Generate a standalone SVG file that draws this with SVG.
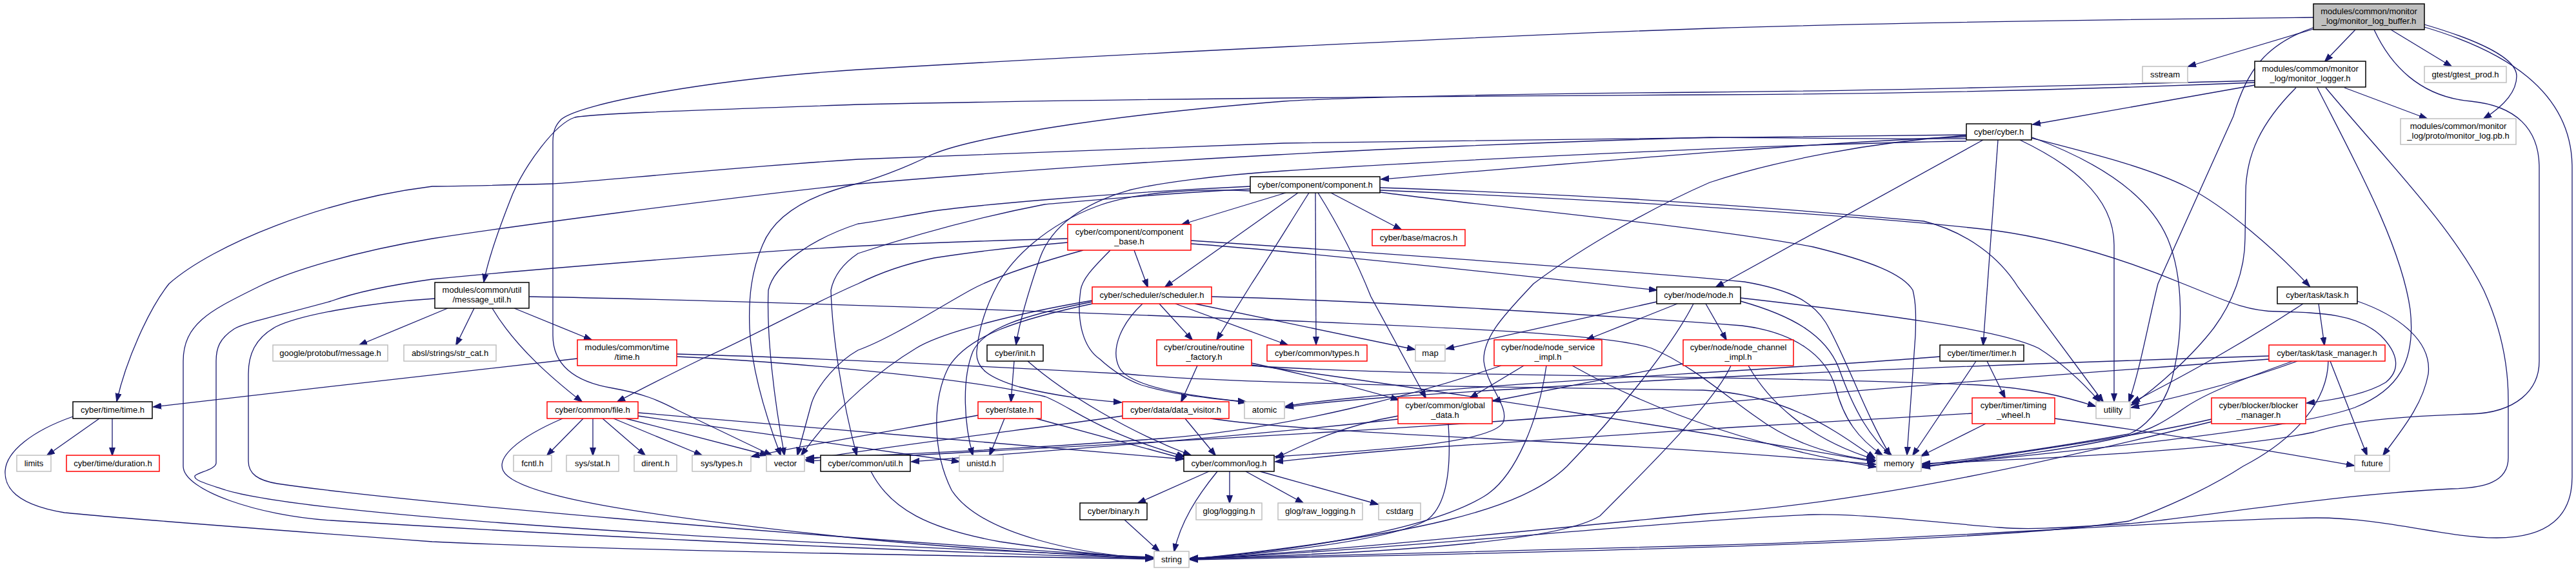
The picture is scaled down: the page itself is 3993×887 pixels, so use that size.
<svg xmlns="http://www.w3.org/2000/svg" width="3993" height="887" viewBox="0 0 3993 887">
<defs>
<style>
.e{fill:none;stroke:#191970;stroke-width:1.3;marker-end:url(#a)}
.nb rect{fill:#fff;stroke:#000;stroke-width:1.5}
.nr rect{fill:#fff;stroke:#ff0000;stroke-width:1.5}
.ng rect{fill:#fff;stroke:#bfbfbf;stroke-width:1.5}
.nroot rect{fill:#bfbfbf;stroke:#000;stroke-width:1.5}
text{font-family:"Liberation Sans",Arial,sans-serif;font-size:13px;text-anchor:middle;fill:#000}
</style>
<marker id="a" markerUnits="userSpaceOnUse" markerWidth="13" markerHeight="10" viewBox="0 0 13 10" refX="12" refY="5" orient="auto"><path d="M0,0.5 L13,5 L0,9.5 z" fill="#191970" stroke="#191970"/></marker>
</defs>
<rect width="3993" height="887" fill="#fff"/>
<g id="edges">
<path class="e" d="M3586,45 L3392,103"/>
<path class="e" d="M3651,46 L3604,95"/>
<path class="e" d="M3706,46 L3800,103"/>
<path class="e" d="M3758,38 C3840,62 3901,90 3901,118 C3901,142 3880,165 3850,184"/>
<path class="e" d="M3758,42 C3880,78 3987,140 3987,260 L3987,740 C3987,800 3950,834 3870,834 C3790,834 3700,803 3590,803 C3400,805 3000,836 2640,846 C2300,856 2000,864 1845,867"/>
<path class="e" d="M3586,27 C3300,30 2900,36 2650,44 C2300,56 1700,86 1330,108 C1100,123 900,160 870,185 C860,195 857,205 857,220 L857,520 C857,565 890,592 950,602 C995,610 1020,620 1050,636 L1196,706"/>
<path class="e" d="M3588,42 C3512,68 3482,110 3462,180 L3345,440 C3330,500 3318,570 3300,623"/>
<path class="e" d="M3680,46 C3705,100 3750,150 3830,157 C3900,164 3936,200 3936,260 L3936,560 C3936,605 3900,640 3830,642 C3740,645 3650,650 3587,670 C3450,700 3100,714 2980,719"/>
<path class="e" d="M3495,128 C3200,140 2900,146 2640,147 C2300,149 1800,152 1330,162 C1080,171 920,176 891,182 C860,192 815,255 795,300 C775,350 757,400 750,437"/>
<path class="e" d="M3495,132 L3151,193"/>
<path class="e" d="M3495,125 C3200,133 2900,141 2640,143 C2400,145 2100,150 1990,157 C1700,180 1500,215 1444,240 C1400,262 1350,280 1320,287 C1250,305 1200,335 1182,380 C1165,420 1160,460 1162,510 C1165,570 1185,640 1210,706"/>
<path class="e" d="M3559,136 C3505,190 3481,240 3481,300 L3480,370 C3480,420 3460,470 3432,508 C3400,550 3345,600 3304,628"/>
<path class="e" d="M3592,136 C3650,250 3722,380 3736,480 C3745,560 3718,605 3650,632 C3550,668 3200,700 2980,723"/>
<path class="e" d="M3634,136 L3762,184"/>
<path class="e" d="M3605,136 C3700,250 3800,350 3850,450 C3882,520 3888,580 3888,620 L3888,710 C3888,748 3850,757 3800,758 C3600,768 3400,804 3300,812 C3200,818 3150,822 3100,818 C3000,810 2880,796 2811,798 C2600,806 2100,858 1845,866"/>
<path class="e" d="M3048,209 C2800,211 2300,218 1990,222 C1700,232 1500,240 1330,247 C1100,262 900,284 856,285 C780,287 700,289 670,289 C500,310 330,380 262,440 C230,480 195,560 181,622"/>
<path class="e" d="M3048,212 C2800,222 2500,248 2141,278"/>
<path class="e" d="M3074,217 L2660,445"/>
<path class="e" d="M3097,217 L3074,535"/>
<path class="e" d="M3131,217 C3200,250 3277,300 3277,380 L3277,622"/>
<path class="e" d="M3149,214 C3250,240 3330,260 3390,290 C3450,320 3530,390 3580,444"/>
<path class="e" d="M3048,215 C2900,216 2700,213 2650,213 C2400,220 2100,233 1980,240 C1700,255 1450,275 1320,286 C1100,310 800,350 670,370 C550,390 450,420 400,445 C330,480 284,500 284,560 L284,723 C284,760 400,800 513,807 C800,825 1300,852 1787,866"/>
<path class="e" d="M3048,219 C2800,222 2300,245 1990,265 C1880,272 1790,285 1750,295 C1680,315 1630,350 1612,400 C1595,450 1580,500 1575,534"/>
<path class="e" d="M3048,210 C2900,220 2750,250 2650,283 C2536,333 2430,400 2377,440 C2340,480 2298,520 2300,560 C2305,600 2340,630 2330,655 C2310,690 2100,700 1977,708"/>
<path class="e" d="M3150,213 C3250,250 3330,300 3360,370 C3385,430 3385,520 3366,590 C3350,640 3320,665 3300,673 C3150,700 3050,712 2980,721"/>
<path class="e" d="M1993,299 L1832,348"/>
<path class="e" d="M2012,299 L1806,445"/>
<path class="e" d="M2029,299 C2000,345 1960,410 1940,440 L1886,527"/>
<path class="e" d="M2039,299 L2040,534"/>
<path class="e" d="M2043,299 C2075,350 2105,410 2125,460 L2210,617"/>
<path class="e" d="M2063,299 L2172,356"/>
<path class="e" d="M2139,291 C2400,300 2640,312 2982,343 C3050,360 3100,400 3128,445 L3260,623"/>
<path class="e" d="M2139,295 C2500,310 2900,335 3089,357 C3200,372 3300,405 3384,440 C3440,462 3480,483 3530,483 C3600,485 3654,487 3690,520 C3720,550 3720,575 3698,593 C3670,610 3620,620 3576,625"/>
<path class="e" d="M2139,298 C2300,320 2640,350 2811,383 C2900,405 2950,425 2965,450 C2970,470 2970,490 2969,520 L2956,705"/>
<path class="e" d="M1938,289 C1700,300 1500,320 1448,327 C1400,335 1350,345 1330,347 C1260,370 1200,410 1191,450 C1188,520 1200,620 1216,706"/>
<path class="e" d="M1938,293 C1800,300 1700,310 1619,317 C1500,340 1400,370 1330,393 C1305,410 1292,430 1288,450 C1290,520 1305,620 1328,706"/>
<path class="e" d="M1938,296 C1850,292 1760,298 1700,320 C1620,350 1570,400 1547,440 C1528,475 1517,510 1514,545 C1512,570 1530,585 1580,600 C1640,615 1690,620 1738,624"/>
<path class="e" d="M1758,388 L1779,445"/>
<path class="e" d="M1655,376 C1550,385 1480,395 1448,400 C1400,410 1360,425 1330,440 C1260,470 1150,530 1087,557 C1040,580 990,605 957,623"/>
<path class="e" d="M1679,388 C1600,410 1540,430 1504,450 C1450,480 1380,525 1330,543 C1300,560 1268,595 1258,625 L1236,706"/>
<path class="e" d="M1655,370 C1500,374 1400,378 1320,382 C1100,395 800,420 670,433 C620,440 560,450 513,467 C430,490 380,500 363,510 C340,525 335,540 335,560 L335,718 C335,728 305,733 302,738 C300,745 320,750 350,760 C450,790 900,830 1787,864"/>
<path class="e" d="M1721,388 C1700,410 1678,430 1675,450 C1668,500 1680,540 1705,557 C1730,580 1750,590 1769,597 C1830,615 1880,617 1931,624"/>
<path class="e" d="M1846,378 C1950,385 2200,410 2568,450"/>
<path class="e" d="M1846,373 C2100,390 2500,418 2704,437 C2780,450 2811,470 2830,500 C2860,550 2890,640 2930,706"/>
<path class="e" d="M1797,471 L1848,527"/>
<path class="e" d="M1771,471 C1740,500 1720,540 1735,570 C1750,600 1850,615 1931,623"/>
<path class="e" d="M1822,471 L1996,535"/>
<path class="e" d="M1852,471 L2193,542"/>
<path class="e" d="M1878,460 C2100,465 2500,490 2700,505 C2780,515 2830,550 2845,600 C2858,650 2880,680 2918,706"/>
<path class="e" d="M1693,471 C1580,495 1500,520 1470,570 C1445,620 1445,700 1475,760 C1520,830 1680,860 1787,866"/>
<path class="e" d="M1693,468 C1580,490 1525,510 1508,545 C1490,590 1495,660 1508,706"/>
<path class="e" d="M1693,466 C1580,485 1460,515 1420,540 C1370,570 1300,625 1242,706"/>
<path class="e" d="M1856,567 L1831,623"/>
<path class="e" d="M1940,563 C2020,580 2100,600 2168,620"/>
<path class="e" d="M1940,567 C2200,585 2640,580 3067,597 C3150,602 3200,615 3248,630"/>
<path class="e" d="M1940,566 C2200,600 2700,680 2906,716"/>
<path class="e" d="M1837,649 L1884,706"/>
<path class="e" d="M1740,645 C1600,665 1400,688 1249,713"/>
<path class="e" d="M1876,649 C1950,660 2100,670 2300,680 C2600,695 2800,710 2907,720"/>
<path class="e" d="M2245,657 C2248,700 2250,780 2211,807 C2150,840 1950,860 1845,866"/>
<path class="e" d="M2167,645 C2080,660 2020,690 1978,710"/>
<path class="e" d="M2167,650 C1900,680 1600,700 1413,716"/>
<path class="e" d="M2568,468 L2242,541"/>
<path class="e" d="M2600,471 L2459,527"/>
<path class="e" d="M2625,471 C2590,540 2500,650 2429,723 C2360,790 2200,830 1845,867"/>
<path class="e" d="M2644,471 L2676,527"/>
<path class="e" d="M2698,462 C2900,485 3100,510 3160,540 C3200,565 3230,595 3255,623"/>
<path class="e" d="M2698,467 C2780,490 2830,520 2850,570 C2875,640 2900,680 2932,706"/>
<path class="e" d="M2362,567 L2279,617"/>
<path class="e" d="M2397,567 C2385,650 2350,740 2300,770 C2200,830 1950,860 1845,866"/>
<path class="e" d="M2437,567 C2550,630 2700,690 2908,724"/>
<path class="e" d="M2327,567 C2200,610 2000,665 1800,680 C1600,695 1400,705 1250,710"/>
<path class="e" d="M2609,564 L2314,622"/>
<path class="e" d="M2683,567 C2660,620 2560,720 2480,800 C2400,850 2000,862 1845,866"/>
<path class="e" d="M2710,567 C2740,620 2800,680 2905,712"/>
<path class="e" d="M3080,560 L3108,617"/>
<path class="e" d="M3063,560 L2965,706"/>
<path class="e" d="M3007,553 C2800,570 2500,585 2300,600 C2150,612 2050,620 1993,630"/>
<path class="e" d="M3078,657 L2978,707"/>
<path class="e" d="M3057,641 C2800,655 2400,680 2200,695 C2100,702 2020,712 1977,716"/>
<path class="e" d="M3185,649 C3300,665 3500,695 3649,722"/>
<path class="e" d="M3594,471 L3603,535"/>
<path class="e" d="M3654,467 C3720,490 3770,530 3764,580 C3755,630 3720,670 3694,706"/>
<path class="e" d="M3570,471 C3480,530 3400,575 3305,624"/>
<path class="e" d="M3612,560 L3669,706"/>
<path class="e" d="M3609,560 C3608,620 3560,680 3477,723 C3420,760 3350,790 3300,808 C3100,840 2500,855 1845,868"/>
<path class="e" d="M3517,552 C3200,562 2700,580 2400,600 C2200,612 2050,622 1993,632"/>
<path class="e" d="M3517,557 C3200,580 2800,610 2500,640 C2200,665 1700,690 1250,715"/>
<path class="e" d="M3561,560 C3480,590 3380,615 3304,632"/>
<path class="e" d="M3554,560 C3470,590 3420,610 3390,630 C3360,650 3340,665 3300,675 C3200,700 3050,715 2980,724"/>
<path class="e" d="M3428,650 C3300,680 3100,705 2980,725"/>
<path class="e" d="M3428,654 C3200,710 2900,780 2640,797 C2300,830 2000,860 1845,866"/>
<path class="e" d="M735,478 L707,535"/>
<path class="e" d="M694,478 L557,535"/>
<path class="e" d="M797,478 L917,527"/>
<path class="e" d="M763,478 C800,540 860,590 902,623"/>
<path class="e" d="M820,460 C1100,465 1600,482 1990,497 C2300,510 2500,520 2560,540 C2620,565 2670,610 2720,645 C2780,690 2850,708 2907,714"/>
<path class="e" d="M674,463 C560,470 460,490 427,507 C395,525 385,550 385,580 L385,715 C385,735 400,745 430,750 C600,775 1200,830 1787,865"/>
<path class="e" d="M895,556 C700,580 450,605 238,631"/>
<path class="e" d="M1049,553 C1200,560 1500,585 1620,615 C1660,630 1700,670 1836,708"/>
<path class="e" d="M1049,549 C1300,556 1600,572 1747,580 C1900,595 2300,600 2640,605 C2780,612 2860,680 2906,710"/>
<path class="e" d="M904,649 L848,706"/>
<path class="e" d="M919,649 L919,706"/>
<path class="e" d="M934,649 L1000,706"/>
<path class="e" d="M951,649 L1088,706"/>
<path class="e" d="M970,649 L1190,706"/>
<path class="e" d="M989,645 C1150,668 1350,695 1487,716"/>
<path class="e" d="M989,640 C1200,660 1600,690 1834,712"/>
<path class="e" d="M872,649 C800,680 770,710 780,730 C800,770 1000,800 1330,835 C1500,852 1700,862 1787,866"/>
<path class="e" d="M154,649 L73,706"/>
<path class="e" d="M174,649 L174,706"/>
<path class="e" d="M113,646 C50,668 10,700 8,730 C6,765 40,785 100,795 C200,805 400,820 670,840 C1000,855 1500,862 1787,867"/>
<path class="e" d="M1557,649 L1534,706"/>
<path class="e" d="M1606,649 L1834,711"/>
<path class="e" d="M1516,644 C1400,665 1250,690 1165,708"/>
<path class="e" d="M1572,560 L1567,623"/>
<path class="e" d="M1593,560 C1650,610 1750,670 1846,706"/>
<path class="e" d="M1874,731 L1764,780"/>
<path class="e" d="M1887,731 C1855,770 1830,810 1820,855"/>
<path class="e" d="M1906,731 L1906,780"/>
<path class="e" d="M1931,731 L2020,780"/>
<path class="e" d="M1953,731 L2136,782"/>
<path class="e" d="M1743,806 L1797,855"/>
<path class="e" d="M1350,731 C1380,790 1440,820 1550,840 C1650,855 1720,862 1787,866"/>
</g>
<g id="n_root" class="nroot"><rect x="3586" y="6" width="172" height="40"/><text x="3672" y="22">modules/common/monitor</text><text x="3672" y="37">_log/monitor_log_buffer.h</text></g>
<g id="n_sstream" class="ng"><rect x="3321" y="103" width="70" height="25"/><text x="3356" y="120">sstream</text></g>
<g id="n_mlogger" class="nb"><rect x="3495" y="95" width="172" height="40"/><text x="3581" y="111">modules/common/monitor</text><text x="3581" y="126">_log/monitor_logger.h</text></g>
<g id="n_gtest" class="ng"><rect x="3758" y="103" width="127" height="25"/><text x="3821.5" y="120">gtest/gtest_prod.h</text></g>
<g id="n_pb" class="ng"><rect x="3721" y="184" width="179" height="40"/><text x="3810.5" y="200">modules/common/monitor</text><text x="3810.5" y="215">_log/proto/monitor_log.pb.h</text></g>
<g id="n_cyber" class="nb"><rect x="3048" y="192" width="101" height="25"/><text x="3098.5" y="209">cyber/cyber.h</text></g>
<g id="n_component" class="nb"><rect x="1938" y="274" width="201" height="25"/><text x="2038.5" y="291">cyber/component/component.h</text></g>
<g id="n_compbase" class="nr"><rect x="1655" y="348" width="191" height="40"/><text x="1750.5" y="364">cyber/component/component</text><text x="1750.5" y="379">_base.h</text></g>
<g id="n_macros" class="nr"><rect x="2127" y="356" width="144" height="25"/><text x="2199" y="373">cyber/base/macros.h</text></g>
<g id="n_msgutil" class="nb"><rect x="674" y="438" width="146" height="40"/><text x="747" y="454">modules/common/util</text><text x="747" y="469">/message_util.h</text></g>
<g id="n_scheduler" class="nr"><rect x="1693" y="445" width="185" height="26"/><text x="1785.5" y="462">cyber/scheduler/scheduler.h</text></g>
<g id="n_node" class="nb"><rect x="2568" y="445" width="130" height="26"/><text x="2633" y="462">cyber/node/node.h</text></g>
<g id="n_task" class="nb"><rect x="3530" y="445" width="124" height="26"/><text x="3592" y="462">cyber/task/task.h</text></g>
<g id="n_taskmgr" class="nr"><rect x="3517" y="535" width="180" height="25"/><text x="3607" y="552">cyber/task/task_manager.h</text></g>
<g id="n_init" class="nb"><rect x="1530" y="535" width="87" height="25"/><text x="1573.5" y="552">cyber/init.h</text></g>
<g id="n_routine" class="nr"><rect x="1793" y="527" width="147" height="40"/><text x="1866.5" y="543">cyber/croutine/routine</text><text x="1866.5" y="558">_factory.h</text></g>
<g id="n_types" class="nr"><rect x="1964" y="535" width="155" height="25"/><text x="2041.5" y="552">cyber/common/types.h</text></g>
<g id="n_map" class="ng"><rect x="2194" y="535" width="46" height="25"/><text x="2217" y="552">map</text></g>
<g id="n_nsvc" class="nr"><rect x="2316" y="527" width="167" height="40"/><text x="2399.5" y="543">cyber/node/node_service</text><text x="2399.5" y="558">_impl.h</text></g>
<g id="n_nch" class="nr"><rect x="2609" y="527" width="171" height="40"/><text x="2694.5" y="543">cyber/node/node_channel</text><text x="2694.5" y="558">_impl.h</text></g>
<g id="n_timer" class="nb"><rect x="3007" y="535" width="130" height="25"/><text x="3072" y="552">cyber/timer/timer.h</text></g>
<g id="n_mtime" class="nr"><rect x="895" y="527" width="154" height="40"/><text x="972" y="543">modules/common/time</text><text x="972" y="558">/time.h</text></g>
<g id="n_pbmsg" class="ng"><rect x="423" y="535" width="178" height="25"/><text x="512" y="552">google/protobuf/message.h</text></g>
<g id="n_strcat" class="ng"><rect x="626" y="535" width="143" height="25"/><text x="697.5" y="552">absl/strings/str_cat.h</text></g>
<g id="n_ctime" class="nb"><rect x="113" y="623" width="123" height="26"/><text x="174.5" y="640">cyber/time/time.h</text></g>
<g id="n_limits" class="ng"><rect x="26" y="706" width="53" height="25"/><text x="52.5" y="723">limits</text></g>
<g id="n_duration" class="nr"><rect x="103" y="706" width="144" height="25"/><text x="175" y="723">cyber/time/duration.h</text></g>
<g id="n_file" class="nr"><rect x="848" y="623" width="141" height="26"/><text x="918.5" y="640">cyber/common/file.h</text></g>
<g id="n_state" class="nr"><rect x="1516" y="623" width="98" height="26"/><text x="1565" y="640">cyber/state.h</text></g>
<g id="n_dv" class="nr"><rect x="1740" y="623" width="165" height="26"/><text x="1822.5" y="640">cyber/data/data_visitor.h</text></g>
<g id="n_atomic" class="ng"><rect x="1929" y="623" width="62" height="26"/><text x="1960" y="640">atomic</text></g>
<g id="n_gd" class="nr"><rect x="2167" y="617" width="146" height="40"/><text x="2240" y="633">cyber/common/global</text><text x="2240" y="648">_data.h</text></g>
<g id="n_tw" class="nr"><rect x="3057" y="617" width="128" height="40"/><text x="3121" y="633">cyber/timer/timing</text><text x="3121" y="648">_wheel.h</text></g>
<g id="n_utility" class="ng"><rect x="3249" y="623" width="53" height="26"/><text x="3275.5" y="640">utility</text></g>
<g id="n_bm" class="nr"><rect x="3428" y="617" width="146" height="40"/><text x="3501" y="633">cyber/blocker/blocker</text><text x="3501" y="648">_manager.h</text></g>
<g id="n_fcntl" class="ng"><rect x="796" y="706" width="59" height="25"/><text x="825.5" y="723">fcntl.h</text></g>
<g id="n_sysstat" class="ng"><rect x="878" y="706" width="81" height="25"/><text x="918.5" y="723">sys/stat.h</text></g>
<g id="n_dirent" class="ng"><rect x="983" y="706" width="66" height="25"/><text x="1016" y="723">dirent.h</text></g>
<g id="n_systypes" class="ng"><rect x="1073" y="706" width="91" height="25"/><text x="1118.5" y="723">sys/types.h</text></g>
<g id="n_vector" class="ng"><rect x="1188" y="706" width="59" height="25"/><text x="1217.5" y="723">vector</text></g>
<g id="n_util" class="nb"><rect x="1272" y="706" width="139" height="25"/><text x="1341.5" y="723">cyber/common/util.h</text></g>
<g id="n_unistd" class="ng"><rect x="1487" y="706" width="68" height="25"/><text x="1521" y="723">unistd.h</text></g>
<g id="n_log" class="nb"><rect x="1835" y="706" width="140" height="25"/><text x="1905" y="723">cyber/common/log.h</text></g>
<g id="n_memory" class="ng"><rect x="2909" y="706" width="69" height="25"/><text x="2943.5" y="723">memory</text></g>
<g id="n_future" class="ng"><rect x="3650" y="706" width="54" height="25"/><text x="3677" y="723">future</text></g>
<g id="n_binary" class="nb"><rect x="1674" y="780" width="104" height="26"/><text x="1726" y="797">cyber/binary.h</text></g>
<g id="n_glog" class="ng"><rect x="1854" y="780" width="102" height="26"/><text x="1905" y="797">glog/logging.h</text></g>
<g id="n_rawlog" class="ng"><rect x="1981" y="780" width="131" height="26"/><text x="2046.5" y="797">glog/raw_logging.h</text></g>
<g id="n_cstdarg" class="ng"><rect x="2137" y="780" width="65" height="26"/><text x="2169.5" y="797">cstdarg</text></g>
<g id="n_string" class="ng"><rect x="1789" y="855" width="54" height="25"/><text x="1816" y="872">string</text></g>
</svg>
